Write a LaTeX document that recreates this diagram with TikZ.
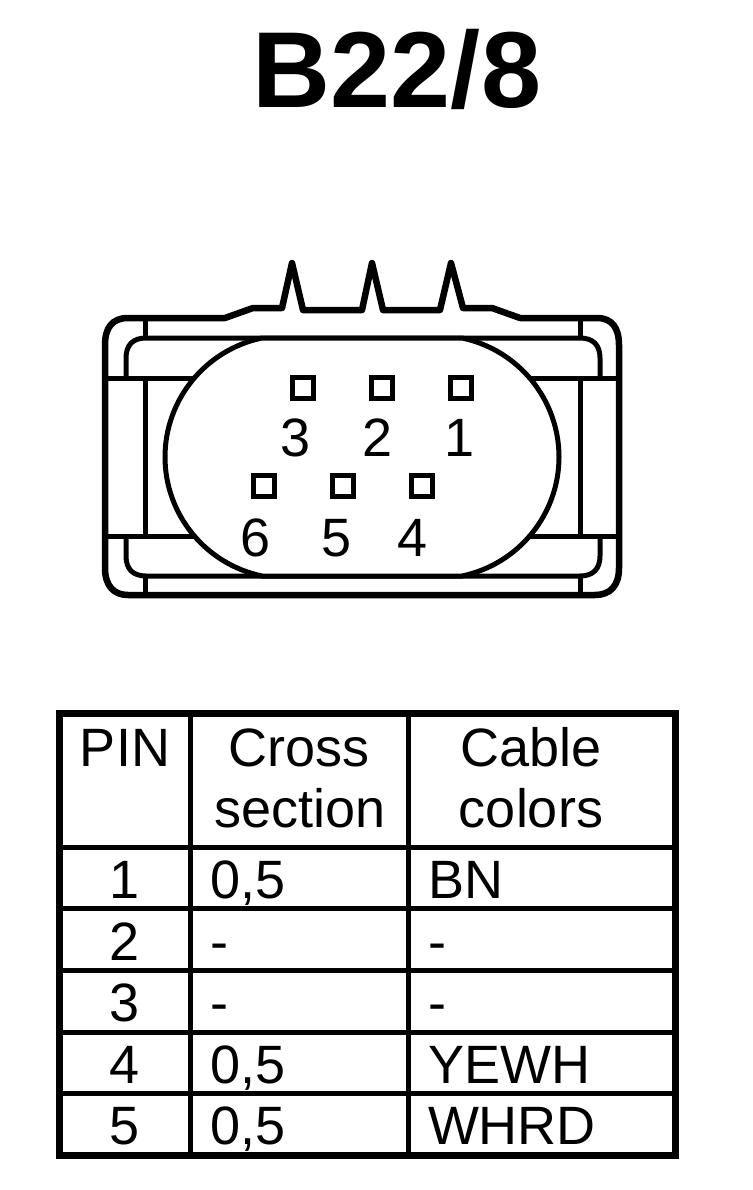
\documentclass[tikz,border=0pt]{standalone}
\usepackage{fontspec}
\setmainfont{Liberation Sans}
\tikzset{
  x=1pt,y=-1pt,
  thick line/.style={line width=6.5pt,line join=round,line cap=round},
  mid line/.style={line width=5pt,line join=round},
  gridline/.style={line width=5pt},
  pinbox/.style={draw,line width=5.5pt,minimum size=21pt,inner sep=0pt,fill=white,outer sep=0pt},
  lbl/.style={inner sep=0pt,outer sep=0pt,font=\fontsize{54}{60}\selectfont},
  lblc/.style={lbl,anchor=base},
  lblw/.style={lbl,anchor=base west},
}
\begin{document}
\begin{tikzpicture}
\useasboundingbox (0,0) rectangle (752,1190);
\fill[white] (0,0) rectangle (752,1190);
\node[anchor=base,inner sep=0pt,font=\fontsize{108}{120}\selectfont\bfseries] (title) at (397,108) {B22/8};
% housing outline
\draw[thick line] (225,318) -- (253,308) -- (282,308) -- (292,263) -- (303,310) -- (362,310) -- (372,263) -- (383,310) -- (440,310) -- (451,263) -- (463,308) -- (492,308) -- (520,318) -- (597,318)
  .. controls (612,318) and (619,328) .. (619,345) -- (619,568)
  .. controls (619,586) and (610,595) .. (595,595) -- (128,595)
  .. controls (114,595) and (105,586) .. (105,568) -- (105,345)
  .. controls (105,328) and (112,318) .. (128,318) -- cycle;
% inner frame
\draw[mid line] (126,378) -- (126,358) .. controls (126,345) and (133,338) .. (146,338) -- (580,338) .. controls (593,338) and (600,345) .. (600,358) -- (600,378);
\draw[mid line] (126,536) -- (126,556) .. controls (126,569) and (133,576) .. (146,576) -- (580,576) .. controls (593,576) and (600,569) .. (600,556) -- (600,536);
\draw[mid line] (105,378) -- (619,378) (105,536) -- (619,536);
\draw[mid line] (145,318) -- (145,338) (145,378) -- (145,536) (145,576) -- (145,595);
\draw[mid line] (580,318) -- (580,338) (580,378) -- (580,536) (580,576) -- (580,595);
% oval
\draw[mid line,fill=white] (262,338) .. controls (205,350) and (165,400) .. (165,457)
  .. controls (165,514) and (205,564) .. (262,576) -- (462,576)
  .. controls (519,564) and (559,514) .. (559,457)
  .. controls (559,400) and (519,350) .. (462,338) -- cycle;
% pins
\node[pinbox] (p3) at (303,388) {};
\node[pinbox] (p2) at (382,388) {};
\node[pinbox] (p1) at (461,388) {};
\node[pinbox] (p6) at (264,486) {};
\node[pinbox] (p5) at (343,486) {};
\node[pinbox] (p4) at (422,486) {};
\node[lblc] (n3) at (296,456) {3};
\node[lblc] (n2) at (378,456) {2};
\node[lblc] (n1) at (460,456) {1};
\node[lblc] (n6) at (256,556) {6};
\node[lblc] (n5) at (337,556) {5};
\node[lblc] (n4) at (413,556) {4};
% table
\draw[line width=7pt] (59,713) rectangle (675,1155);
\draw[gridline] (190.5,713) -- (190.5,1155) (408.5,713) -- (408.5,1155);
\draw[gridline] (59,847) -- (675,847) (59,908) -- (675,908) (59,970) -- (675,970) (59,1032) -- (675,1032) (59,1093) -- (675,1093);
\node[lblc] (hpin) at (125,766) {PIN};
\node[lblc] (hcross) at (299,766) {Cross};
\node[lblc] (hsec) at (300,827) {section};
\node[lblc] (hcable) at (531,766) {Cable};
\node[lblc] (hcol) at (531,827) {colors};
\node[lblc] (r1) at (125,898) {1};
\node[lblc] (r2) at (125,960) {2};
\node[lblc] (r3) at (125,1021) {3};
\node[lblc] (r4) at (125,1083) {4};
\node[lblc] (r5) at (125,1144) {5};
\node[lblw] (c1) at (210,898) {0,5};
\node[lblw] (c2) at (210,960) {-};
\node[lblw] (c3) at (210,1021) {-};
\node[lblw] (c4) at (210,1083) {0,5};
\node[lblw] (c5) at (210,1144) {0,5};
\node[lblw] (d1) at (428,898) {BN};
\node[lblw] (d2) at (428,960) {-};
\node[lblw] (d3) at (428,1021) {-};
\node[lblw] (d4) at (428,1083) {YEWH};
\node[lblw] (d5) at (428,1144) {WHRD};
\end{tikzpicture}
\end{document}
